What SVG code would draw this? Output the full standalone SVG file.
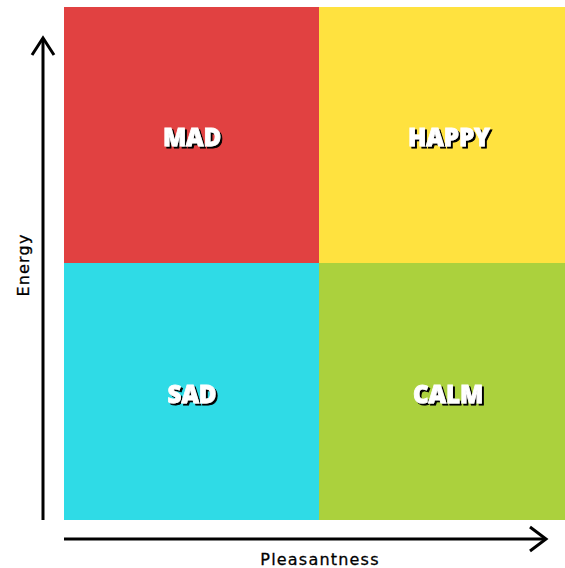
<svg xmlns="http://www.w3.org/2000/svg" width="565" height="568" viewBox="0 0 565 568">
  <defs>
    <!-- hard black offset shadow under the quadrant labels -->
    <filter id="hardShadow" x="-20%" y="-30%" width="140%" height="160%">
      <feOffset in="SourceAlpha" dx="2" dy="2" result="off"/>
      <feFlood flood-color="#000"/>
      <feComposite operator="in" in2="off" result="shadow"/>
      <feMerge>
        <feMergeNode in="shadow"/>
        <feMergeNode in="SourceGraphic"/>
      </feMerge>
    </filter>
  </defs>
  <style>
    .lbl { font-family: "Open Sans", Lato, "Liberation Sans", sans-serif; font-weight: 800; font-size: 24px; text-anchor: middle; fill: #fff; stroke: #fff; stroke-width: 0.8px; filter: url(#hardShadow); }
    .axis { fill: none; stroke: #000; stroke-width: 3; stroke-linecap: butt; stroke-linejoin: miter; }
    .axis-title { font-family: "DejaVu Sans", "Liberation Sans", sans-serif; font-size: 16px; letter-spacing: 1.2px; fill: #000; stroke: #000; stroke-width: 0.3px; text-anchor: middle; }
  </style>
  <rect width="565" height="568" fill="#fff"/>

  <g id="mad">
    <rect x="64" y="7" width="255" height="256" fill="#e14141"/>
    <text class="lbl" x="192" y="146">MAD</text>
  </g>
  <g id="happy">
    <rect x="319" y="7" width="246" height="256" fill="#ffe23f"/>
    <text class="lbl" x="449" y="146">HAPPY</text>
  </g>
  <g id="sad">
    <rect x="64" y="263" width="255" height="257" fill="#2fdbe6"/>
    <text class="lbl" x="192" y="403">SAD</text>
  </g>
  <g id="calm">
    <rect x="319" y="263" width="246" height="257" fill="#abd13d"/>
    <text class="lbl" x="448" y="403">CALM</text>
  </g>

  <g id="axes">
    <path class="axis" d="M43 520 V38"/>
    <path class="axis" d="M32 55 L43 38 L54 55"/>
    <path class="axis" d="M64 539 H546"/>
    <path class="axis" d="M530 527 L546 539 L530 551"/>
    <text class="axis-title" transform="translate(29 265) rotate(-90)">Energy</text>
    <text class="axis-title" x="320" y="565">Pleasantness</text>
  </g>
</svg>
